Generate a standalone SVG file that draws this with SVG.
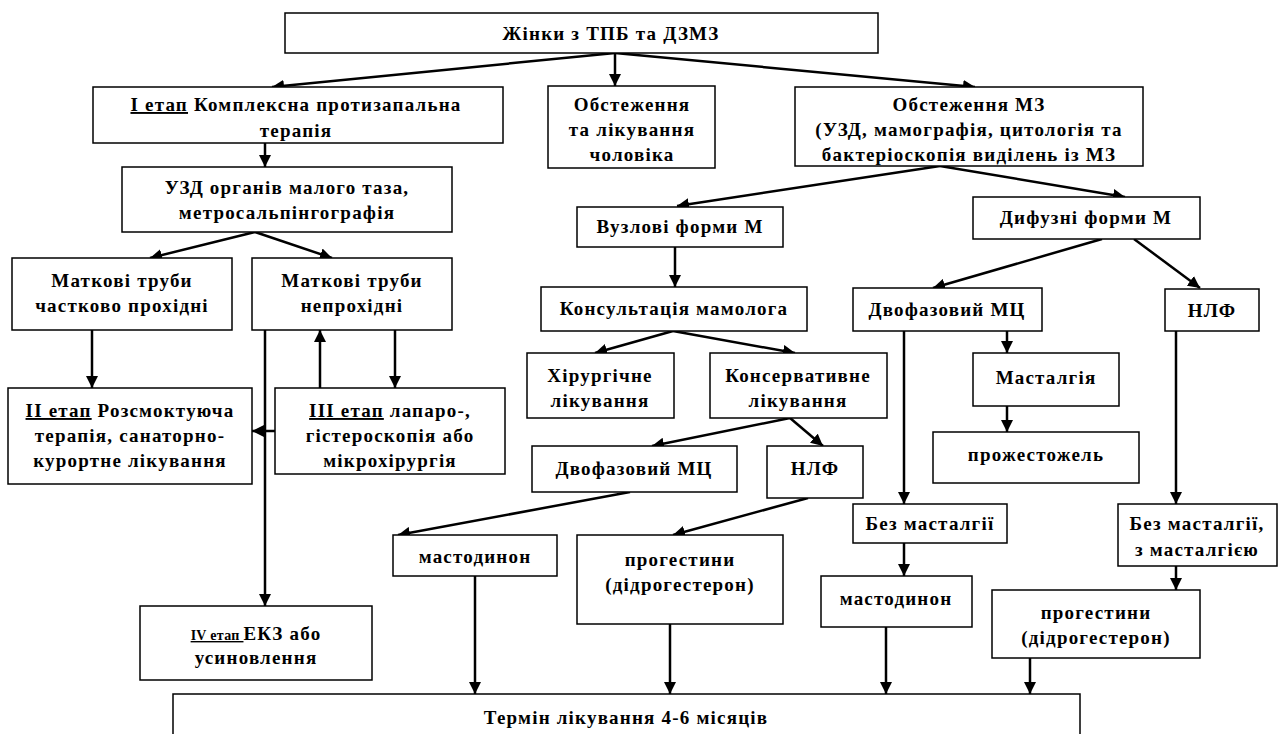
<svg xmlns="http://www.w3.org/2000/svg" width="1278" height="734" viewBox="0 0 1278 734">
<style>
.b{fill:#fff;stroke:#000;stroke-width:1.5}
.t{font-family:"Liberation Serif","Times New Roman",serif;font-weight:bold;font-size:19px;letter-spacing:1.2px;text-anchor:middle;fill:#000}
.u{text-decoration:underline}
.c line{stroke:#000;stroke-width:2.5;marker-end:url(#ah)}
</style>
<defs>
<marker id="ah" markerUnits="userSpaceOnUse" markerWidth="12" markerHeight="12" refX="12" refY="6" orient="auto" viewBox="0 0 12 12">
<path d="M0,0 L12,6 L0,12 z" fill="#000"/>
</marker>
</defs>
<rect width="1278" height="734" fill="#fff"/>

<g id="connectors" class="c">
<line x1="615" y1="53" x2="272" y2="87"/>
<line x1="615" y1="53" x2="615" y2="86"/>
<line x1="615" y1="53" x2="975" y2="87"/>
<line x1="265" y1="143" x2="265" y2="167"/>
<line x1="255" y1="232" x2="150" y2="258"/>
<line x1="255" y1="232" x2="332" y2="258"/>
<line x1="92" y1="330" x2="92" y2="388"/>
<line x1="265" y1="330" x2="265" y2="606"/>
<line x1="320" y1="388" x2="320" y2="330"/>
<line x1="395" y1="330" x2="395" y2="388"/>
<line x1="275" y1="431" x2="252" y2="431"/>
<line x1="940" y1="166" x2="677" y2="206"/>
<line x1="940" y1="166" x2="1125" y2="197"/>
<line x1="675" y1="247" x2="675" y2="287"/>
<line x1="673" y1="331" x2="595" y2="353"/>
<line x1="673" y1="331" x2="795" y2="353"/>
<line x1="790" y1="418" x2="652" y2="446"/>
<line x1="790" y1="418" x2="823" y2="446"/>
<line x1="630" y1="492" x2="398" y2="535"/>
<line x1="808" y1="498" x2="673" y2="535"/>
<line x1="475" y1="576" x2="475" y2="694"/>
<line x1="670" y1="624" x2="670" y2="694"/>
<line x1="1102" y1="239" x2="933" y2="288"/>
<line x1="1134" y1="239" x2="1200" y2="288"/>
<line x1="1007" y1="331" x2="1007" y2="353"/>
<line x1="1007" y1="406" x2="1007" y2="432"/>
<line x1="904" y1="331" x2="904" y2="504"/>
<line x1="904" y1="543" x2="904" y2="576"/>
<line x1="886" y1="627" x2="886" y2="694"/>
<line x1="1176" y1="331" x2="1176" y2="504"/>
<line x1="1176" y1="566" x2="1176" y2="590"/>
<line x1="1030" y1="658" x2="1030" y2="694"/>
</g>

<g id="n-top"><rect class="b" x="285" y="13" width="593" height="40"/>
<text class="t" x="611" y="40">Жінки з ТПБ та ДЗМЗ</text></g>

<g id="n-etap1"><rect class="b" x="93" y="87" width="410" height="56"/>
<text class="t" x="296" y="111"><tspan class="u">І етап</tspan> Комплексна протизапальна</text>
<text class="t" x="296" y="137">терапія</text></g>

<g id="n-men"><rect class="b" x="548" y="86" width="167" height="82"/>
<text class="t" x="632" y="111">Обстеження</text>
<text class="t" x="632" y="136">та лікування</text>
<text class="t" x="632" y="161">чоловіка</text></g>

<g id="n-mz"><rect class="b" x="795" y="87" width="348" height="79"/>
<text class="t" x="969" y="111">Обстеження МЗ</text>
<text class="t" x="969" y="136">(УЗД, мамографія, цитологія та</text>
<text class="t" x="969" y="161">бактеріоскопія виділень із МЗ</text></g>

<g id="n-uzd"><rect class="b" x="122" y="167" width="330" height="65"/>
<text class="t" x="287" y="194">УЗД органів малого таза,</text>
<text class="t" x="287" y="219">метросальпінгографія</text></g>

<g id="n-partial"><rect class="b" x="12" y="258" width="220" height="72"/>
<text class="t" x="122" y="287">Маткові труби</text>
<text class="t" x="122" y="312">частково прохідні</text></g>

<g id="n-blocked"><rect class="b" x="252" y="258" width="200" height="72"/>
<text class="t" x="352" y="287">Маткові труби</text>
<text class="t" x="352" y="312">непрохідні</text></g>

<g id="n-etap2"><rect class="b" x="8" y="388" width="244" height="96"/>
<text class="t" x="130" y="417"><tspan class="u">ІІ етап</tspan> Розсмоктуюча</text>
<text class="t" x="130" y="442">терапія, санаторно-</text>
<text class="t" x="130" y="467">курортне лікування</text></g>

<g id="n-etap3"><rect class="b" x="275" y="388" width="230" height="86"/>
<text class="t" x="390" y="417"><tspan class="u">ІІІ етап</tspan> лапаро-,</text>
<text class="t" x="390" y="442">гістероскопія або</text>
<text class="t" x="390" y="467">мікрохірургія</text></g>

<g id="n-etap4"><rect class="b" x="140" y="606" width="232" height="74"/>
<text class="t" x="256" y="640"><tspan class="u" style="font-size:14px;letter-spacing:0.3px">ІV етап </tspan>ЕКЗ або</text>
<text class="t" x="256" y="664">усиновлення</text></g>

<g id="n-nodular"><rect class="b" x="577" y="207" width="206" height="40"/>
<text class="t" x="680" y="233">Вузлові форми М</text></g>

<g id="n-diffuse"><rect class="b" x="973" y="197" width="227" height="42"/>
<text class="t" x="1086" y="224">Дифузні форми М</text></g>

<g id="n-consult"><rect class="b" x="541" y="287" width="266" height="44"/>
<text class="t" x="674" y="315">Консультація мамолога</text></g>

<g id="n-surg"><rect class="b" x="527" y="353" width="147" height="65"/>
<text class="t" x="600" y="382">Хірургічне</text>
<text class="t" x="600" y="407">лікування</text></g>

<g id="n-cons"><rect class="b" x="710" y="353" width="177" height="65"/>
<text class="t" x="798" y="382">Консервативне</text>
<text class="t" x="798" y="407">лікування</text></g>

<g id="n-biph1"><rect class="b" x="532" y="446" width="205" height="46"/>
<text class="t" x="634" y="475">Двофазовий МЦ</text></g>

<g id="n-nlf1"><rect class="b" x="767" y="446" width="96" height="52"/>
<text class="t" x="815" y="475">НЛФ</text></g>

<g id="n-mast1"><rect class="b" x="393" y="535" width="164" height="41"/>
<text class="t" x="475" y="563">мастодинон</text></g>

<g id="n-prog1"><rect class="b" x="577" y="535" width="206" height="89"/>
<text class="t" x="680" y="566">прогестини</text>
<text class="t" x="680" y="591">(дідрогестерон)</text></g>

<g id="n-biph2"><rect class="b" x="853" y="288" width="189" height="43"/>
<text class="t" x="947" y="316">Двофазовий МЦ</text></g>

<g id="n-nlf2"><rect class="b" x="1165" y="289" width="94" height="42"/>
<text class="t" x="1212" y="317">НЛФ</text></g>

<g id="n-mastalgia"><rect class="b" x="973" y="353" width="146" height="53"/>
<text class="t" x="1046" y="384">Масталгія</text></g>

<g id="n-progestogel"><rect class="b" x="933" y="432" width="206" height="51"/>
<text class="t" x="1036" y="461">прожестожель</text></g>

<g id="n-nomast"><rect class="b" x="853" y="504" width="154" height="39"/>
<text class="t" x="930" y="530">Без масталгії</text></g>

<g id="n-mast2"><rect class="b" x="821" y="576" width="151" height="51"/>
<text class="t" x="896" y="605">мастодинон</text></g>

<g id="n-nomast2"><rect class="b" x="1118" y="504" width="159" height="62"/>
<text class="t" x="1197" y="530">Без масталгії,</text>
<text class="t" x="1197" y="556">з масталгією</text></g>

<g id="n-prog2"><rect class="b" x="992" y="590" width="208" height="68"/>
<text class="t" x="1096" y="619">прогестини</text>
<text class="t" x="1096" y="644">(дідрогестерон)</text></g>

<g id="n-term"><rect class="b" x="173" y="694" width="907" height="60"/>
<text class="t" x="626" y="724">Термін лікування 4-6 місяців</text></g>
</svg>
